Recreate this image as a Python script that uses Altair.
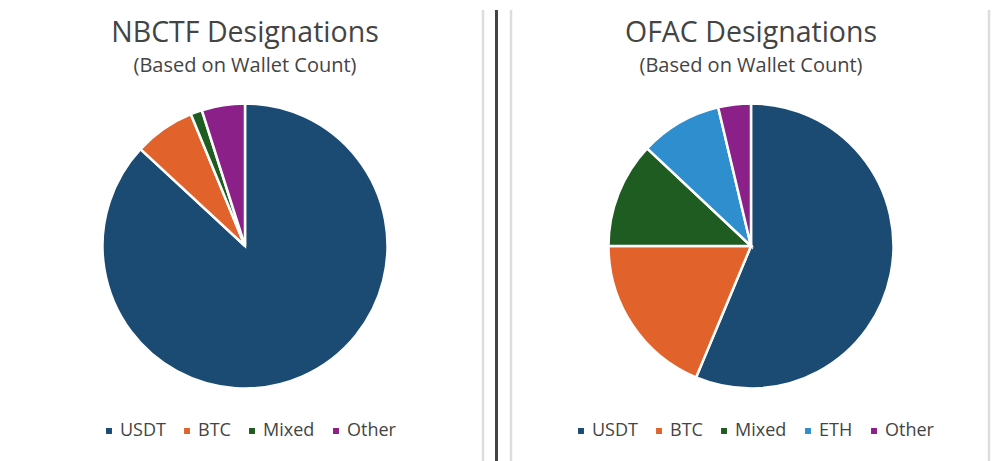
import altair as alt
import pandas as pd

left_labels = ["USDT", "BTC", "Mixed", "Other"]
left_values = [86.9, 6.9, 1.3, 4.9]
left_colors = ["#1b4b72", "#e2622c", "#1f5c22", "#8a2088"]

right_labels = ["USDT", "BTC", "Mixed", "ETH", "Other"]
right_values = [56.3, 18.7, 12.0, 9.3, 3.7]
right_colors = ["#1b4b72", "#e2622c", "#1f5c22", "#2f8fce", "#8a2088"]

FONT = "Open Sans"
INK = "#444444"
PH = 445


def panel(title, labels, values, colors, w, cx, cy, title_x, legend_x, rules):
    df = pd.DataFrame({"name": labels, "value": values, "idx": range(len(labels))})
    pie = alt.Chart(df).mark_arc(outerRadius=142.5, stroke="white", strokeWidth=2.5).encode(
        x=alt.value(cx),
        y=alt.value(cy),
        theta=alt.Theta("value:Q", stack=True),
        order=alt.Order("idx:Q"),
        color=alt.Color(
            "name:N",
            scale=alt.Scale(domain=labels, range=colors),
            legend=alt.Legend(
                title=None, orient="none", direction="horizontal",
                legendX=legend_x, legendY=412, symbolType="square", symbolSize=55,
                labelFont=FONT, labelFontSize=18, labelColor=INK,
                columnPadding=12, symbolOffset=0, labelOffset=2, columns=len(labels),
                labelLimit=200,
            ),
        ),
    )
    t1 = alt.Chart(df.head(1)).mark_text(
        text=title, font=FONT, fontSize=28.5, color=INK, align="center", baseline="middle"
    ).encode(x=alt.value(title_x), y=alt.value(23))
    t2 = alt.Chart(df.head(1)).mark_text(
        text="(Based on Wallet Count)", font=FONT, fontSize=20, color=INK, align="center", baseline="middle"
    ).encode(x=alt.value(title_x), y=alt.value(56))
    layers = [pie, t1, t2]
    for rx, col, sw in rules:
        layers.append(
            alt.Chart(df.head(1)).mark_rule(color=col, strokeWidth=sw).encode(
                x=alt.value(rx), y=alt.value(0), y2=alt.value(PH + 8)
            )
        )
    return alt.layer(*layers).properties(width=w, height=PH)


a = panel("NBCTF Designations", left_labels, left_values, left_colors, 490, 237, 236, 237, 92,
          [(475, "#dddddd", 2.5), (488.5, "#444444", 3)])
b = panel("OFAC Designations", right_labels, right_values, right_colors, 494, 253, 236, 253, 74,
          [(13, "#dddddd", 2.5), (491, "#dddddd", 2.5)])

chart = (
    alt.hconcat(a, b, spacing=0, padding=0, background="white")
    .resolve_scale(color="independent", theta="independent")
    .configure_view(stroke=None)
    .configure_concat(spacing=0)
)
chart.save("out.html", embed_options={"renderer": "svg", "actions": False})
